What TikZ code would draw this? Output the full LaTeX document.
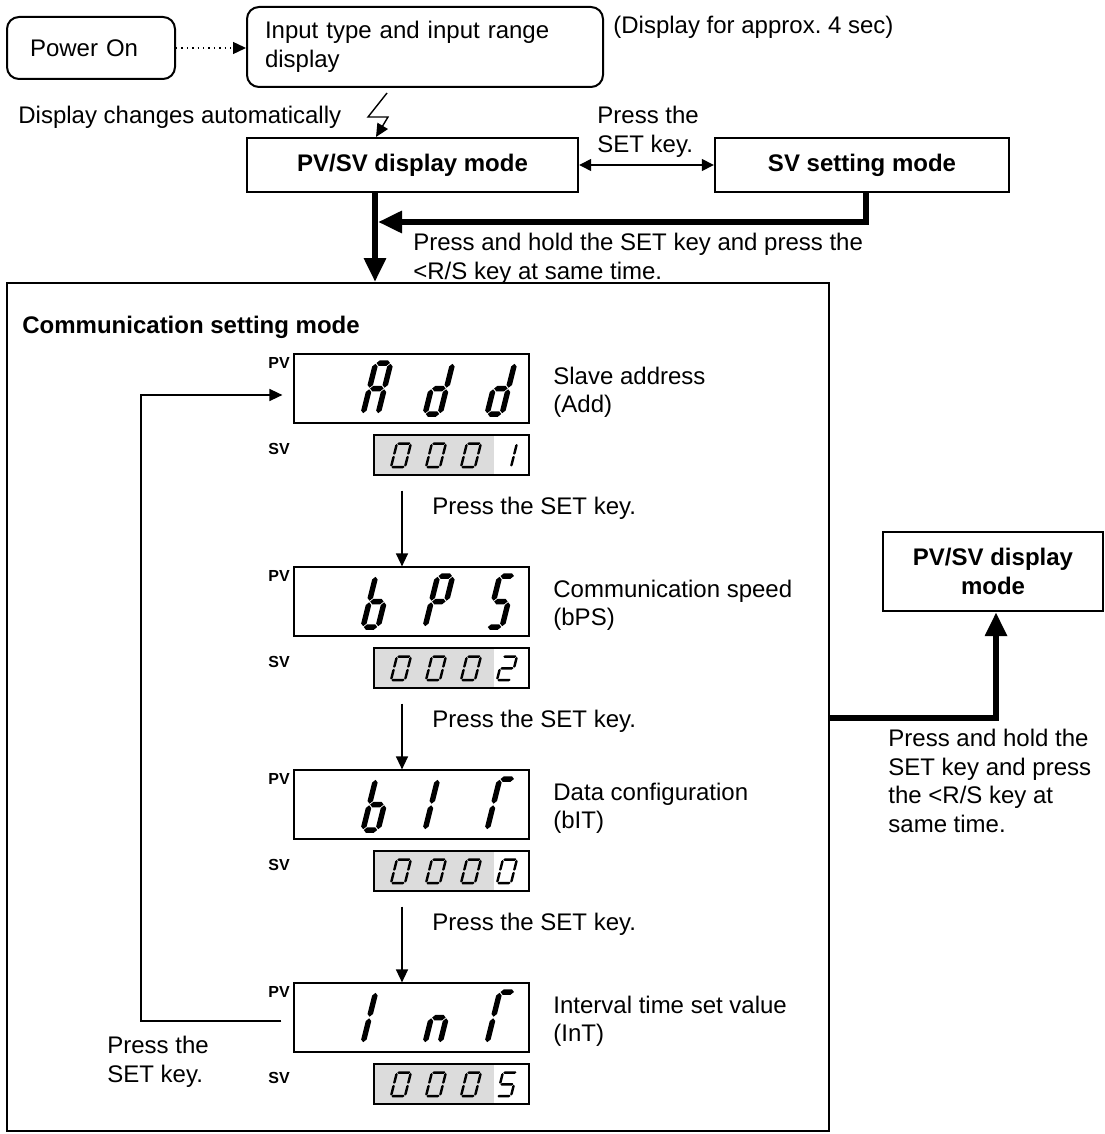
\documentclass[tikz,border=0pt]{standalone}
\usepackage{fontspec}
\setmainfont{Liberation Sans}
\usetikzlibrary{arrows.meta}
\definecolor{lcdgray}{HTML}{DCDCDC}
\frenchspacing

% seven-segment pieces (u right, v up, local px units)
\def\ssega{\fill (\sg,\sH) -- (\sg+\sh,\sH+\sh) -- (\sW-\sg-\sh,\sH+\sh) -- (\sW-\sg,\sH) -- (\sW-\sg-\sh,\sH-\sh) -- (\sg+\sh,\sH-\sh) -- cycle;}
\def\ssegg{\fill (\sg,\sH/2) -- (\sg+\sh,\sH/2+\sh) -- (\sW-\sg-\sh,\sH/2+\sh) -- (\sW-\sg,\sH/2) -- (\sW-\sg-\sh,\sH/2-\sh) -- (\sg+\sh,\sH/2-\sh) -- cycle;}
\def\ssegd{\fill (\sg,0) -- (\sg+\sh,\sh) -- (\sW-\sg-\sh,\sh) -- (\sW-\sg,0) -- (\sW-\sg-\sh,0-\sh) -- (\sg+\sh,0-\sh) -- cycle;}
\def\ssegv#1#2#3{\fill (#1,#2+\sg) -- (#1+\sh,#2+\sg+\sh) -- (#1+\sh,#3-\sg-\sh) -- (#1,#3-\sg) -- (#1-\sh,#3-\sg-\sh) -- (#1-\sh,#2+\sg+\sh) -- cycle;}
\def\ssegf{\ssegv{0}{\sH/2}{\sH}}
\def\ssegb{\ssegv{\sW}{\sH/2}{\sH}}
\def\ssege{\ssegv{0}{0}{\sH/2}}
\def\ssegc{\ssegv{\sW}{0}{\sH/2}}
\newcommand{\ssd}[7]{\begin{scope}[shift={(#1,#2)},xslant=0.25,yscale=-1]\def\sW{#3}\def\sH{#4}\def\sh{#5/2}\def\sg{#6}\foreach \q in {#7}{\csname sseg\q\endcsname}\end{scope}}
\newcommand{\pvdig}[3]{\ssd{#1}{#2}{15}{51}{5.5}{0.8}{#3}}
\newcommand{\svdig}[3]{\ssd{#1}{#2}{14}{23.5}{2.5}{0.5}{#3}}

\newcommand{\lcdunit}[3]{%
  \fill[lcdgray] (374,#2+81) rectangle (494,#2+121);
  \node[lcd, minimum width=117.5pt, minimum height=34.5pt] (pv#1) at (411.5,#2+34.5) {};
  \node[lcd, minimum width=77.5pt, minimum height=20pt] (sv#1) at (451.5,#2+101) {};
  \node[tag] (pvt#1) at (279,#2+9) {PV};
  \node[tag] (svt#1) at (279,#2+95) {SV};
  \node[txt] (desc#1) at (553,#2+38.5) {#3};
}

\begin{document}
\begin{tikzpicture}[x=0.5pt,y=-0.5pt,
  font=\fontsize{12}{14.25}\selectfont,
  tip/.style={-{Triangle[length=6.5pt,width=6pt]}},
  bigtip/.style={-{Triangle[length=12pt,width=10.5pt]}},
  thinln/.style={line width=0.7pt},
  heavy/.style={line width=3pt},
  modebox/.style={draw, line width=1.2pt, inner sep=0pt, align=center, font=\fontsize{12}{14.25}\selectfont\bfseries},
  rbox/.style={draw, line width=1pt, rounded corners=6pt, align=left, inner ysep=0pt},
  lcd/.style={draw, line width=0.6pt, inner sep=0pt},
  tag/.style={inner sep=0pt, font=\fontsize{8}{9}\selectfont\bfseries},
  txt/.style={anchor=west, align=left, inner sep=0pt}
]
\useasboundingbox (0,0) rectangle (1104,1134);

% top flow
\node[rbox, text width=61pt, inner xsep=11.5pt, minimum height=31pt] (power) at (91,48) {Power On};
\node[rbox, text width=160pt, inner xsep=9pt, minimum height=40pt] (input) at (425,47) {Input type and input range\\display};
\node[txt] (note) at (613,27) {(Display for approx. 4 sec)};
\draw[thinln, dotted, tip] (power.east) -- (power.east -| input.west);

\node[txt] (auto) at (18,117) {Display changes automatically};
\node[modebox, minimum width=165.5pt, minimum height=27pt] (pvsv) at (412.5,165) {PV/SV display mode};
\node[modebox, minimum width=147pt, minimum height=27pt] (svset) at (862,165) {SV setting mode};
\coordinate (lz) at (387,93);
\draw[thinln, tip] (lz) -- ++(-19,24) -- ++(20,0) -- ++(-12,20);

\draw[thinln, {Triangle[length=6pt,width=6pt]}-{Triangle[length=6pt,width=6pt]}] (pvsv.east) -- (svset.west);
\node[txt] (setlbl) at (597,132) {Press the\\SET key.};

% communication box
\node[draw, line width=1pt, minimum width=411pt, minimum height=424pt, inner sep=0pt] (comm) at (418,707) {};
\node[txt, font=\fontsize{12}{14.25}\selectfont\bfseries] (commt) at (22,327) {Communication setting mode};

\coordinate (pvd) at ([xshift=-18.75pt]pvsv.south);
\coordinate (hy) at (0,222);
\draw[heavy, bigtip] (pvd) -- (pvd |- comm.north);
\draw[heavy, bigtip] ([xshift=2pt]svset.south) |- ([xshift=1.5pt]pvd |- hy);
\node[txt] (holdlbl) at (413,259) {Press and hold the SET key and press the\\<R/S key at same time.};

% displays
\lcdunit{1}{354}{Slave address\\(Add)}
\lcdunit{2}{567}{Communication speed\\(bPS)}
\lcdunit{3}{770}{Data configuration\\(bIT)}
\lcdunit{4}{983}{Interval time set value\\(InT)}

% Add / 0001
\pvdig{363}{414}{a,b,c,e,f,g}
\pvdig{425}{414}{b,c,d,e,g}
\pvdig{487}{414}{b,c,d,e,g}
\svdig{391}{467}{a,b,c,d,e,f}
\svdig{426}{467}{a,b,c,d,e,f}
\svdig{461}{467}{a,b,c,d,e,f}
\svdig{497}{467}{b,c}
% bPS / 0002
\pvdig{363}{627}{c,d,e,f,g}
\pvdig{425}{627}{a,b,e,f,g}
\pvdig{487}{627}{a,c,d,f,g}
\svdig{391}{680}{a,b,c,d,e,f}
\svdig{426}{680}{a,b,c,d,e,f}
\svdig{461}{680}{a,b,c,d,e,f}
\svdig{497}{680}{a,b,g,e,d}
% bIT / 0000
\pvdig{363}{830}{c,d,e,f,g}
\pvdig{425}{830}{e,f}
\pvdig{487}{830}{a,e,f}
\svdig{391}{883}{a,b,c,d,e,f}
\svdig{426}{883}{a,b,c,d,e,f}
\svdig{461}{883}{a,b,c,d,e,f}
\svdig{497}{883}{a,b,c,d,e,f}
% InT / 0005
\pvdig{363}{1043}{e,f}
\pvdig{425}{1043}{c,e,g}
\pvdig{487}{1043}{a,e,f}
\svdig{391}{1096}{a,b,c,d,e,f}
\svdig{426}{1096}{a,b,c,d,e,f}
\svdig{461}{1096}{a,b,c,d,e,f}
\svdig{497}{1096}{a,f,g,c,d}

% arrows between displays
\foreach \i/\j in {1/2,2/3,3/4}{
  \coordinate (a\i) at ([shift={(-24.75pt,-7.5pt)}]sv\i.south);
  \draw[thinln, tip] (a\i) -- (a\i |- pv\j.north);
  \node[txt] (pl\i) at ([shift={(15pt,-9pt)}]a\i) {Press the SET key.};
}

% loop back
\coordinate (ls) at ([shift={(-6pt,-1.75pt)}]pv4.west);
\coordinate (le) at ([shift={(-5.5pt,-3.25pt)}]pv1.west);
\coordinate (lx) at (141,0);
\draw[thinln, tip] (ls) -- (ls -| lx) -- (lx |- le) -- (le);
\node[txt] (looplbl) at (107,1062) {Press the\\SET key.};

% return to PV/SV display mode
\node[modebox, minimum width=110pt, minimum height=39.5pt] (ret) at (993,571.5) {PV/SV display\\mode};
\coordinate (ry) at (0,718);
\draw[heavy, bigtip] (comm.east |- ry) -| ([xshift=1.5pt]ret.south);
\node[txt] (retlbl) at (888,781) {Press and hold the\\SET key and press\\the <R/S key at\\same time.};
\end{tikzpicture}
\end{document}
